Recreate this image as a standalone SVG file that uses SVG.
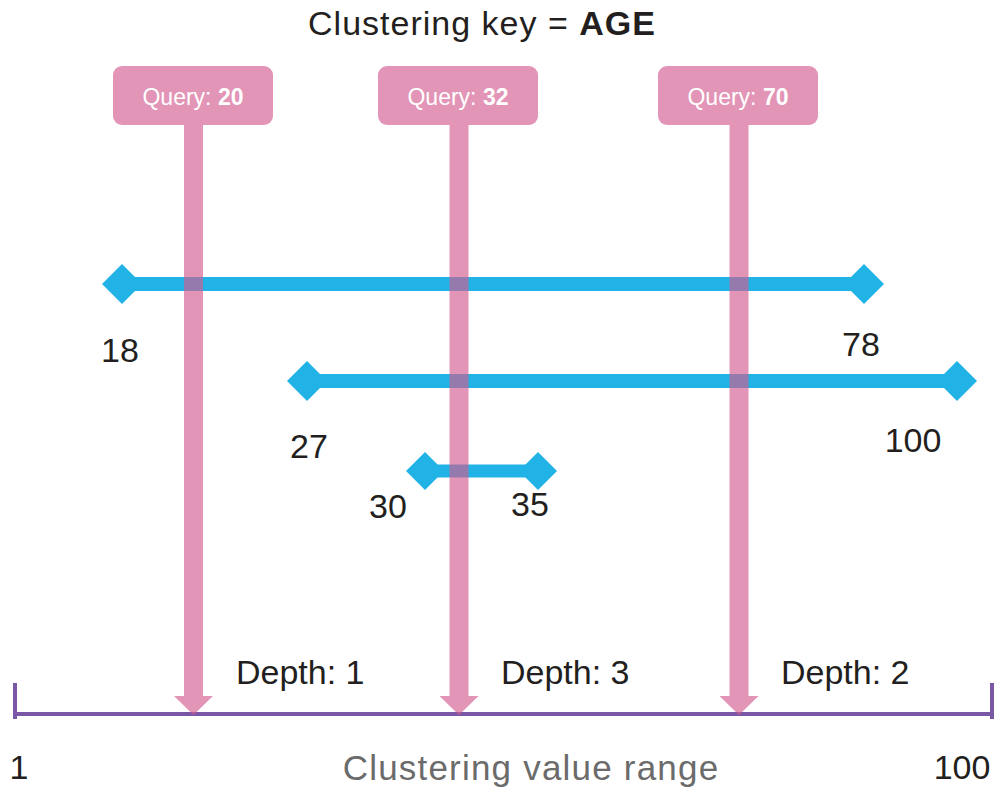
<svg xmlns="http://www.w3.org/2000/svg" width="994" height="791" viewBox="0 0 994 791">
  <style>
    text { font-family: "Liberation Sans", Arial, sans-serif; fill: #231f20; }
    .title { font-size: 34px; letter-spacing: 1px; }
    .num { font-size: 34px; text-anchor: middle; }
    .depth { font-size: 34px; }
    .axis-label { font-size: 35px; letter-spacing: 1.2px; fill: #6b6b6b; text-anchor: middle; }
    .qbox { fill: #e295b6; }
    .qtext { font-size: 23px; fill: #ffffff; text-anchor: middle; }
    .qarrow { fill: #d35d8f; fill-opacity: 0.655; }
    .range { stroke: #22b3e6; fill: none; }
    .tip { fill: #22b3e6; }
    .axis { stroke: #7a58a5; stroke-width: 4; fill: none; }
  </style>

  <rect width="994" height="791" fill="#ffffff"/>

  <text class="title" x="482" y="35" text-anchor="middle">Clustering key = <tspan font-weight="bold">AGE</tspan></text>

  <!-- value ranges -->
  <g id="range-18-78">
    <line class="range" x1="122" y1="284" x2="864" y2="284" stroke-width="14"/>
    <polygon class="tip" points="102,284 122,264 142,284 122,304"/>
    <polygon class="tip" points="844,284 864,264 884,284 864,304"/>
    <text class="num" x="120" y="362">18</text>
    <text class="num" x="861" y="356">78</text>
  </g>
  <g id="range-27-100">
    <line class="range" x1="307" y1="381" x2="957" y2="381" stroke-width="14"/>
    <polygon class="tip" points="287,381 307,361 327,381 307,401"/>
    <polygon class="tip" points="937,381 957,361 977,381 957,401"/>
    <text class="num" x="309" y="458">27</text>
    <text class="num" x="913" y="452">100</text>
  </g>
  <g id="range-30-35">
    <line class="range" x1="425" y1="471" x2="538" y2="471" stroke-width="13"/>
    <polygon class="tip" points="406,471 425,452 444,471 425,490"/>
    <polygon class="tip" points="519,471 538,452 557,471 538,490"/>
    <text class="num" x="388" y="518">30</text>
    <text class="num" x="530" y="516">35</text>
  </g>

  <!-- axis -->
  <g id="axis">
    <line class="axis" x1="13" y1="714" x2="994" y2="714"/>
    <line class="axis" x1="15" y1="683" x2="15" y2="719"/>
    <line class="axis" x1="992" y1="683" x2="992" y2="719"/>
    <text class="num" x="19" y="779">1</text>
    <text class="num" x="962" y="779">100</text>
    <text class="axis-label" x="531" y="780">Clustering value range</text>
  </g>

  <!-- query arrows -->
  <g id="connectors">
    <polygon class="qarrow" points="184,125 203,125 203,696 213,696 193.5,715 174,696 184,696"/>
    <polygon class="qarrow" points="449.5,125 468.5,125 468.5,696 478.5,696 459,715 439.5,696 449.5,696"/>
    <polygon class="qarrow" points="729.5,125 748.5,125 748.5,696 758.5,696 739,715 719.5,696 729.5,696"/>
  </g>

  <g id="query-20">
    <rect class="qbox" x="113" y="66" width="160" height="59" rx="9"/>
    <text class="qtext" x="193" y="105">Query: <tspan font-weight="bold">20</tspan></text>
  </g>
  <g id="query-32">
    <rect class="qbox" x="378" y="66" width="160" height="59" rx="9"/>
    <text class="qtext" x="458" y="105">Query: <tspan font-weight="bold">32</tspan></text>
  </g>
  <g id="query-70">
    <rect class="qbox" x="658" y="66" width="160" height="59" rx="9"/>
    <text class="qtext" x="738" y="105">Query: <tspan font-weight="bold">70</tspan></text>
  </g>

  <g id="depth-labels">
    <text class="depth" x="236" y="684">Depth: 1</text>
    <text class="depth" x="501" y="684">Depth: 3</text>
    <text class="depth" x="781" y="684">Depth: 2</text>
  </g>
</svg>
